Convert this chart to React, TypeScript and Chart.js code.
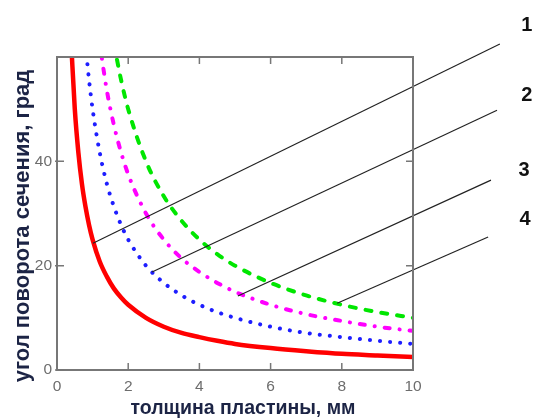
import React, { useEffect, useRef } from "react";
import { Chart, registerables } from "chart.js";
Chart.register(...registerables);

const thickness = [0.4, 0.5, 0.6, 0.7, 0.8, 0.9, 1.0, 1.2, 1.4, 1.6, 1.8, 2.0, 2.5, 3.0, 3.5, 4.0, 4.5, 5.0, 6.0, 7.0, 8.0, 9.0, 10.0];
const curve1 = [62.5, 50, 41.7, 35.7, 31.3, 27.8, 25, 20.8, 17.9, 15.6, 13.9, 12.5, 10, 8.3, 7.1, 6.3, 5.6, 5, 4.2, 3.6, 3.1, 2.8, 2.5];
const curve2 = [null, null, null, null, 62.5, 55.6, 50, 41.7, 35.7, 31.3, 27.8, 25, 20, 16.7, 14.3, 12.5, 11.1, 10, 8.3, 7.1, 6.3, 5.6, 5];
const curve3 = [null, null, null, null, null, null, null, 62.5, 53.6, 46.9, 41.7, 37.5, 30, 25, 21.4, 18.8, 16.7, 15, 12.5, 10.7, 9.4, 8.3, 7.5];
const curve4 = [null, null, null, null, null, null, null, null, null, 62.5, 55.6, 50, 40, 33.3, 28.6, 25, 22.2, 20, 16.7, 14.3, 12.5, 11.1, 10];

const xTicks = [0, 2, 4, 6, 8, 10];
const yTicks = [0, 20, 40];

const leaderLabels = ["1", "2", "3", "4"];
const leaderStartX = [1.01, 2.67, 5.08, 7.87];
const leaderStartY = [24.3, 18.8, 14.2, 12.8];
const leaderEndX = [12.44, 12.36, 12.19, 12.11];
const leaderEndY = [62.5, 49.8, 36.4, 25.5];
const labelX = [13.2, 13.2, 13.12, 13.15];
const labelY = [66.1, 52.7, 38.3, 28.8];

const xTitle = "толщина пластины, мм";
const yTitle = "угол поворота сечения, град";

function pts(vals: (number | null)[]) {
  const out: { x: number; y: number }[] = [];
  vals.forEach((v, i) => {
    if (v !== null) out.push({ x: thickness[i], y: v });
  });
  return out;
}

const framePlugin = {
  id: "frame",
  afterDraw(chart: any) {
    const { ctx, chartArea: a, scales } = chart;
    const xs = scales.x;
    const ys = scales.y;
    ctx.save();
    // leader lines
    ctx.strokeStyle = "#222";
    ctx.lineWidth = 1.2;
    for (let i = 0; i < leaderLabels.length; i++) {
      ctx.beginPath();
      ctx.moveTo(xs.getPixelForValue(leaderStartX[i]), ys.getPixelForValue(leaderStartY[i]));
      ctx.lineTo(xs.getPixelForValue(leaderEndX[i]), ys.getPixelForValue(leaderEndY[i]));
      ctx.stroke();
    }
    // frame
    ctx.strokeStyle = "#777";
    ctx.lineWidth = 2;
    ctx.strokeRect(a.left, a.top, a.right - a.left, a.bottom - a.top);
    ctx.lineWidth = 1.5;
    const tl = 7;
    xTicks.forEach((t) => {
      const px = xs.getPixelForValue(t);
      ctx.beginPath();
      ctx.moveTo(px, a.bottom);
      ctx.lineTo(px, a.bottom - tl);
      ctx.moveTo(px, a.top);
      ctx.lineTo(px, a.top + tl);
      ctx.stroke();
    });
    yTicks.forEach((t) => {
      const py = ys.getPixelForValue(t);
      ctx.beginPath();
      ctx.moveTo(a.left - 2, py);
      ctx.lineTo(a.left + tl, py);
      ctx.moveTo(a.right, py);
      ctx.lineTo(a.right - tl, py);
      ctx.stroke();
    });
    // leader labels
    ctx.fillStyle = "#111";
    ctx.font = "bold 20px 'Liberation Sans', Arial, sans-serif";
    ctx.textAlign = "center";
    ctx.textBaseline = "middle";
    for (let i = 0; i < leaderLabels.length; i++) {
      ctx.fillText(leaderLabels[i], xs.getPixelForValue(labelX[i]), ys.getPixelForValue(labelY[i]));
    }
    // axis titles
    ctx.fillStyle = "#1c2445";
    ctx.font = "bold 19.5px 'Liberation Sans', Arial, sans-serif";
    ctx.textBaseline = "middle";
    ctx.fillText(xTitle, 243, 409);
    ctx.save();
    ctx.font = "bold 22px 'Liberation Sans', Arial, sans-serif";
    ctx.translate(23, 226);
    ctx.rotate(-Math.PI / 2);
    ctx.fillText(yTitle, 0, 0);
    ctx.restore();
    ctx.restore();
  },
};

export default function App() {
  const ref = useRef<HTMLCanvasElement>(null);
  useEffect(() => {
    if (!ref.current) return;
    const common = { fill: false, pointRadius: 0, cubicInterpolationMode: "monotone", clip: 0, borderWidth: 4 };
    const chart = new Chart(ref.current, {
      type: "line",
      data: {
        datasets: [
          { ...common, data: pts(curve1), borderColor: "#ff0000", borderWidth: 4.5, borderCapStyle: "butt" },
          { ...common, data: pts(curve2), borderColor: "#1e1eff", borderDash: [0.1, 10], borderCapStyle: "round" },
          { ...common, data: pts(curve3), borderColor: "#ff00ff", borderDash: [5, 10, 0.1, 10], borderCapStyle: "round" },
          { ...common, data: pts(curve4), borderColor: "#00e600", borderDash: [6, 10], borderCapStyle: "round" },
        ] as any,
      },
      options: {
        animation: false,
        responsive: false,
        maintainAspectRatio: false,
        events: [],
        layout: { padding: { left: 0, right: 122, top: 57, bottom: 0 } },
        plugins: { legend: { display: false }, tooltip: { enabled: false } },
        scales: {
          x: {
            type: "linear",
            min: 0,
            max: 10,
            afterFit: (s: any) => { s.height = 49; },
            afterBuildTicks: (s: any) => { s.ticks = xTicks.map((v) => ({ value: v })); },
            grid: { display: false, drawTicks: false },
            border: { display: false },
            ticks: { color: "#6d6d6d", padding: 7, maxRotation: 0, font: { family: "'Liberation Sans', Arial, sans-serif", size: 15.5 } },
          },
          y: {
            type: "linear",
            min: 0,
            max: 60,
            afterFit: (s: any) => { s.width = 57; },
            afterBuildTicks: (s: any) => { s.ticks = yTicks.map((v) => ({ value: v })); },
            grid: { display: false, drawTicks: false },
            border: { display: false },
            ticks: { color: "#6d6d6d", padding: 5, font: { family: "'Liberation Sans', Arial, sans-serif", size: 15.5 } },
          },
        },
      },
      plugins: [framePlugin],
    } as any);
    return () => chart.destroy();
  }, []);
  return (
    <div style={{ position: "fixed", left: 0, top: 0, width: 535, height: 419, background: "#fff" }}>
      <canvas ref={ref} width={535} height={419} style={{ width: 535, height: 419, display: "block" }} />
    </div>
  );
}
